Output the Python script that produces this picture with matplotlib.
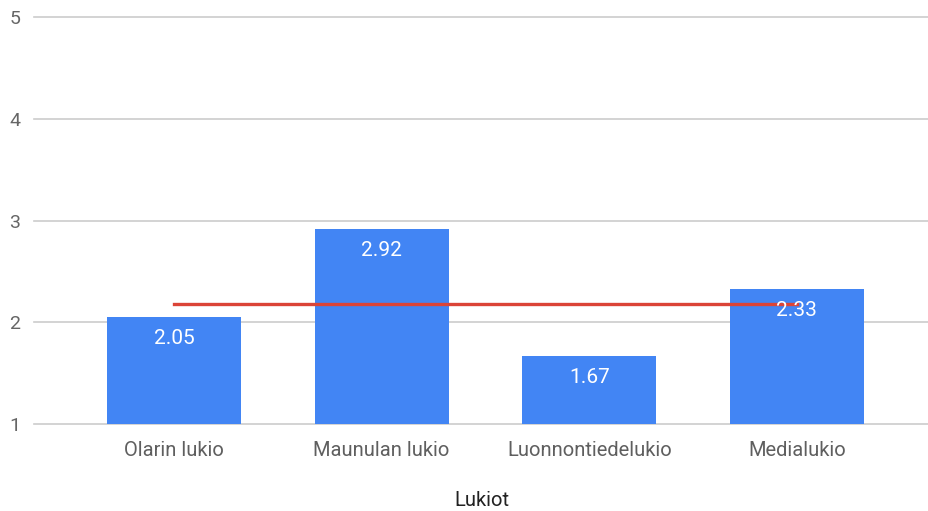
import matplotlib.pyplot as plt

schools = ["Olarin lukio", "Maunulan lukio", "Luonnontiedelukio", "Medialukio"]
scores = [2.05, 2.92, 1.67, 2.33]
average = [2.18, 2.18, 2.18, 2.18]
y_ticks = [1, 2, 3, 4, 5]

plt.rcParams["font.family"] = ["Roboto", "DejaVu Sans"]

fig = plt.figure(figsize=(9.29, 5.11), dpi=100)
ax = fig.add_axes([34 / 929, 1 - 424 / 511, 1 - 34 / 929, (424 - 17.5) / 511])

x = list(range(len(schools)))
base = y_ticks[0]
ax.bar(x, [s - base for s in scores], bottom=base, width=0.645, color="#4285f4", zorder=2)
ax.plot(x, average, color="#db4437", linewidth=2.4, zorder=3)

for xi, s in zip(x, scores):
    ax.text(xi, s - 0.21, f"{s:.2f}", ha="center", va="center", color="white", fontsize=15, zorder=4)

ax.set_xlim(-0.674, 3.636)
ax.set_ylim(1, 5)
ax.set_yticks(y_ticks)
ax.set_xticks(x)
ax.set_xticklabels(schools, fontsize=14.5, color="#5f5f5f")
ax.tick_params(axis="y", labelsize=14, labelcolor="#666666", length=0, pad=10)
ax.tick_params(axis="x", length=0, pad=12)
ax.grid(axis="y", color="#cccccc", linewidth=1.2, zorder=0)
for gl in ax.get_ygridlines():
    gl.set_clip_on(False)
ax.set_axisbelow(True)
for sp in ax.spines.values():
    sp.set_visible(False)

ax.set_xlabel("Lukiot", fontsize=14.5, color="#222222")
# centre of the axis title sits about 76 px below the baseline
ax.xaxis.set_label_coords(0.5, -76 / 406.5)
ax.xaxis.label.set_va("center")

fig.savefig("out.png", dpi=100)
